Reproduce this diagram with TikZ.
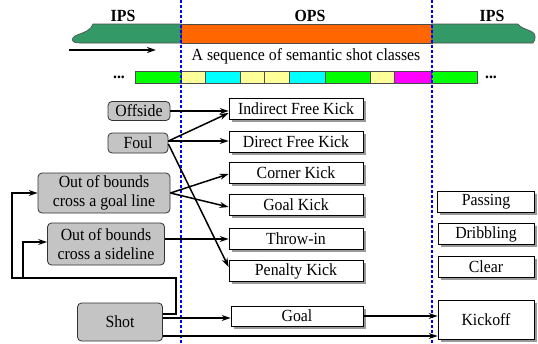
\documentclass[tikz,border=0pt]{standalone}
\usepackage{fontspec}
\setmainfont[FakeStretch=0.93]{Liberation Serif}
\usetikzlibrary{arrows.meta,shadows,calc}
\definecolor{ipsgreen}{HTML}{339966}
\definecolor{opsorange}{HTML}{FF6600}
\definecolor{sgreen}{HTML}{00FF00}
\definecolor{syellow}{HTML}{FFFF99}
\definecolor{scyan}{HTML}{00FFFF}
\definecolor{smag}{HTML}{FF00FF}
\definecolor{boxgray}{HTML}{C4C4C4}
\tikzset{
  every node/.style={font=\fontsize{17}{18.5}\selectfont, inner sep=0pt},
  evbox/.style={draw=black, line width=0.8pt, fill=white, rectangle, minimum width=134pt, minimum height=21pt,
    drop shadow={shadow xshift=2.5pt, shadow yshift=-2.5pt, fill=gray!80, opacity=1}},
  srcbox/.style={draw=black!80, line width=0.8pt, fill=boxgray, rounded corners=4pt, align=center},
  arr/.style={line width=1.5pt, -{Stealth[length=9pt,width=6pt]}},
  bound/.style={blue, line width=1.6pt, dash pattern=on 3pt off 2pt},
  seg/.style={draw=black!70, line width=0.6pt},
  bandlbl/.style={font=\fontsize{17}{18.5}\selectfont\bfseries},
}
\begin{document}
\begin{tikzpicture}[x=1pt,y=-1pt]
\useasboundingbox (0,0) rectangle (538,343);
% top band
\draw[fill=ipsgreen, draw=black!70, line width=0.6pt] (93,24) -- (181,24) -- (181,43) -- (80,43)
  .. controls (70,43) and (70,38) .. (77,35) .. controls (85,32) and (91,30) .. (93,24) -- cycle;
\draw[fill=opsorange, draw=black!70, line width=0.6pt] (181,24) rectangle (432,43);
\draw[fill=ipsgreen, draw=black!70, line width=0.6pt] (432,24) -- (518,24)
  .. controls (522,30) and (535,30) .. (535,36) .. controls (535,40) .. (533,43) -- (432,43) -- cycle;
\node[bandlbl] (ips1) at (123,16) {IPS};
\node[bandlbl] (ops) at (310,16) {OPS};
\node[bandlbl] (ips2) at (492,16) {IPS};
\coordinate (ta) at (69,50);
\coordinate (tb) at (156,50);
\draw[arr] (ta) -- (tb);
\node (seqtxt) at (306,56) {A sequence of semantic shot classes};
% sequence bar
\foreach \a/\b/\c in {135/181/sgreen,181/205/syellow,205/240/scyan,240/264/syellow,264/289/syellow,289/325/scyan,325/370/sgreen,370/394/syellow,394/431/smag,431/477/sgreen}{
  \draw[seg, fill=\c] (\a,71) rectangle (\b,83);
}
\node[bandlbl] (dl) at (119,77) {...};
\node[bandlbl] (dr) at (491,77) {...};
% boundaries
\coordinate (b1t) at (181,0); \coordinate (b1b) at (181,343);
\coordinate (b2t) at (432,0); \coordinate (b2b) at (432,343);
\draw[bound] (b1t) -- (b1b);
\draw[bound] (b2t) -- (b2b);
% source nodes
\node[srcbox, minimum width=62pt, minimum height=19pt] (offside) at (139,111) {Offside};
\node[srcbox, minimum width=60pt, minimum height=20pt] (foul) at (138,143) {Foul};
\node[srcbox, minimum width=132pt, minimum height=40pt] (goalline) at (104,193) {Out of bounds\\cross a goal line};
\node[srcbox, minimum width=117pt, minimum height=42pt] (sideline) at (106,244) {Out of bounds\\cross a sideline};
\node[srcbox, minimum width=85pt, minimum height=38pt] (shot) at (120,322) {Shot};
% event nodes
\node[evbox] (ifk) at (296,109) {Indirect Free Kick};
\node[evbox] (dfk) at (296,142) {Direct Free Kick};
\node[evbox] (corner) at (296,173) {Corner Kick};
\node[evbox] (gkick) at (296,205) {Goal Kick};
\node[evbox] (throw) at (296,239) {Throw-in};
\node[evbox] (pen) at (296,271) {Penalty Kick};
\node[evbox, minimum width=132pt, minimum height=20pt] (goal) at (297,316) {Goal};
\node[evbox, minimum width=97pt] (passing) at (486,202) {Passing};
\node[evbox, minimum width=96pt] (dribbling) at (486,234) {Dribbling};
\node[evbox, minimum width=96pt] (clear) at (486,267) {Clear};
\node[evbox, minimum width=96pt, minimum height=39pt] (kickoff) at (486,320) {Kickoff};
% connectors
\draw[arr] (offside.east) -- (offside.east -| ifk.west);
\draw[arr] ($(foul.east)+(0,-2)$) -- ($(ifk.west)+(0,4)$);
\draw[arr] ($(foul.east)+(0,-2)$) -- ($(foul.east -| dfk.west)+(0,-2)$);
\draw[arr] ($(foul.east)+(0,1)$) -- ($(pen.west)+(0,-4)$);
\draw[arr] (goalline.east) -- ($(corner.west)+(0,1)$);
\draw[arr] (goalline.east) -- ($(gkick.west)+(0,2)$);
\draw[arr] (sideline.east |- throw.west) -- (throw.west);
\draw[arr] ($(shot.east)+(0,-4)$) -- ($(shot.east -| goal.west)+(0,-4)$);
\draw[arr] (goal.east) -- (goal.east -| kickoff.west);
\draw[arr] ($(shot.east)+(0,14)$) -- ($(shot.east -| kickoff.west)+(0,14)$);
\coordinate (c1) at (176,278);
\coordinate (c2) at (12,278);
\coordinate (c3) at (23,278);
\draw[arr] ($(shot.east)+(0,-8)$) -| (c1) -- (c2) |- (goalline.west);
\draw[arr] (c3) |- ($(sideline.west)+(0,-2)$);
\end{tikzpicture}
\end{document}
